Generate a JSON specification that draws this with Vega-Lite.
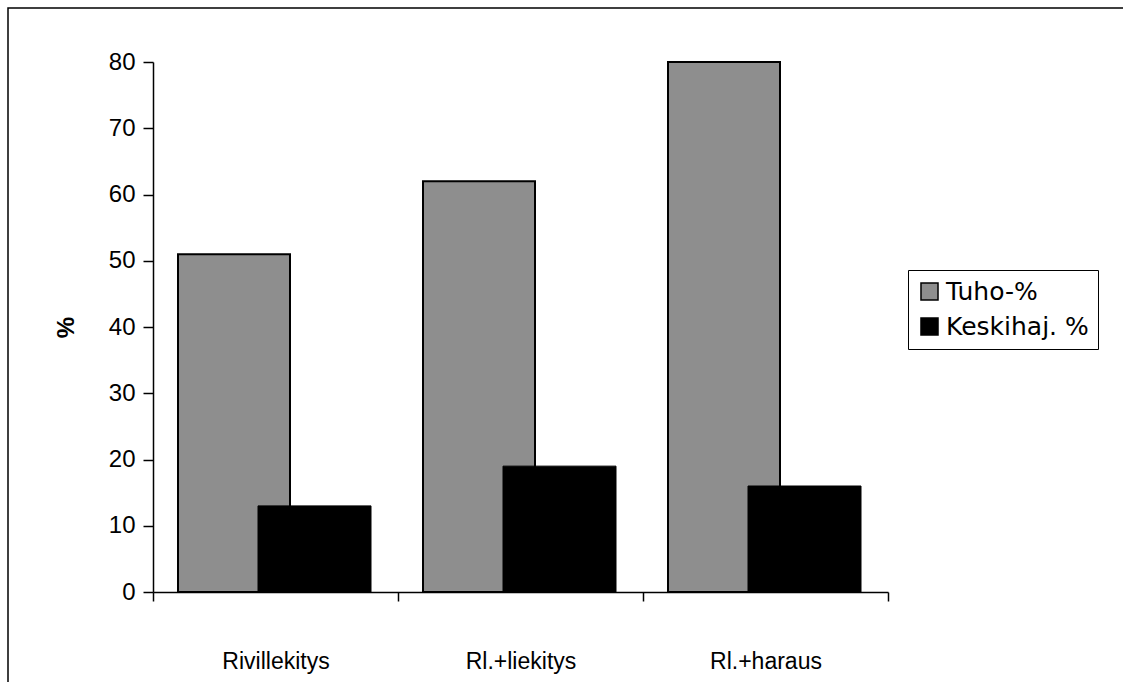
{
  "$schema": "https://vega.github.io/schema/vega-lite/v6.json",
  "autosize": {"type": "none"},
  "padding": {"left": 8, "top": 8, "right": -10, "bottom": -10},
  "width": 1125,
  "height": 684,
  "background": "white",
  "config": {
    "view": {"stroke": "black", "strokeWidth": 1.5},
    "font": "Liberation Sans"
  },
  "data": {
    "values": [
      {"kasittely": "Rivillekitys", "sarja": "Tuho-%", "arvo": 51},
      {"kasittely": "Rivillekitys", "sarja": "Keskihaj. %", "arvo": 13},
      {"kasittely": "Rl.+liekitys", "sarja": "Tuho-%", "arvo": 62},
      {"kasittely": "Rl.+liekitys", "sarja": "Keskihaj. %", "arvo": 19},
      {"kasittely": "Rl.+haraus", "sarja": "Tuho-%", "arvo": 80},
      {"kasittely": "Rl.+haraus", "sarja": "Keskihaj. %", "arvo": 16}
    ]
  },
  "encoding": {
    "x": {
      "field": "kasittely",
      "type": "nominal",
      "sort": ["Rivillekitys", "Rl.+liekitys", "Rl.+haraus"],
      "scale": {"range": [145, 880], "paddingInner": 0, "paddingOuter": 0},
      "axis": {
        "title": null,
        "orient": "bottom",
        "offset": -100,
        "tickBand": "extent",
        "tickSize": 9,
        "tickColor": "black",
        "tickWidth": 1.5,
        "domainColor": "black",
        "domainWidth": 1.5,
        "labelAngle": 0,
        "labelFontSize": 23,
        "labelColor": "black",
        "labelPadding": 49,
        "grid": false
      }
    },
    "y": {
      "field": "arvo",
      "type": "quantitative",
      "scale": {"domain": [0, 80], "range": [584, 54], "nice": false, "zero": true},
      "axis": {
        "title": "%",
        "titleFontSize": 24,
        "titleFontWeight": "bold",
        "titleColor": "black",
        "titlePadding": 30,
        "offset": -145,
        "values": [0, 10, 20, 30, 40, 50, 60, 70, 80],
        "tickSize": 10,
        "tickColor": "black",
        "tickWidth": 1.5,
        "domainColor": "black",
        "domainWidth": 1.5,
        "labelFontSize": 24,
        "labelColor": "black",
        "labelPadding": 8,
        "grid": false
      }
    },
    "color": {
      "field": "sarja",
      "type": "nominal",
      "scale": {"domain": ["Tuho-%", "Keskihaj. %"], "range": ["#8e8e8e", "#000000"]},
      "legend": {
        "orient": "none",
        "legendX": 900,
        "legendY": 262,
        "title": null,
        "strokeColor": "black",
        "padding": 9,
        "symbolType": "square",
        "symbolSize": 290,
        "symbolStrokeColor": "black",
        "symbolStrokeWidth": 1.5,
        "symbolOpacity": 1,
        "labelFont": "DejaVu Sans",
        "labelFontSize": 25,
        "labelColor": "black",
        "labelOffset": 4,
        "rowPadding": 9
      }
    }
  },
  "layer": [
    {
      "transform": [{"filter": "datum.sarja === 'Tuho-%'"}],
      "mark": {"type": "bar", "width": 112, "xOffset": -41.5, "stroke": "black", "strokeWidth": 2, "opacity": 1}
    },
    {
      "transform": [{"filter": "datum.sarja === 'Keskihaj. %'"}],
      "mark": {"type": "bar", "width": 113, "xOffset": 39, "stroke": "black", "strokeWidth": 1, "opacity": 1}
    }
  ]
}
